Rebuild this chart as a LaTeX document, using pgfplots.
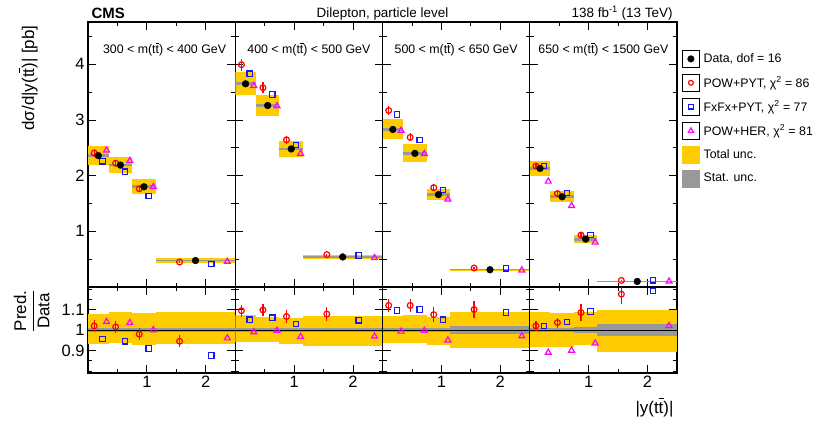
\documentclass[border=0pt]{standalone}
\usepackage{pgfplots}
\pgfplotsset{compat=1.18}
\usepackage{fontspec}
\setmainfont{Liberation Sans}
\definecolor{unc}{HTML}{FFCC00}
\definecolor{stat}{HTML}{999999}
\definecolor{cred}{HTML}{FF0000}
\definecolor{cblue}{HTML}{1818F0}
\definecolor{cmag}{HTML}{FF00FF}
\newcommand{\tbar}{\makebox[0pt][l]{\rule[0.80em]{0.30em}{0.07em}}t}
\newcommand{\ubox}[5]{\addplot[fill=#5, draw=none, no markers, forget plot] coordinates {(#1,#3) (#2,#3) (#2,#4) (#1,#4)};}
\newcommand{\dataplot}[1]{\addplot[only marks, mark=*, mark size=3.4bp, black, forget plot] coordinates {#1};}
\newcommand{\redplot}[1]{\addplot[only marks, mark=o, mark size=2.9bp, cred, line width=1.2bp, forget plot, error bars/.cd, y dir=both, y explicit, error mark=none, error bar style={line width=1.2bp, cred}] coordinates {#1};}
\newcommand{\blueplot}[1]{\addplot[only marks, mark=square, mark size=2.7bp, cblue, line width=1.2bp, forget plot] coordinates {#1};}
\newcommand{\magplot}[1]{\addplot[only marks, mark=triangle, mark size=3.4bp, cmag, line width=1.2bp, forget plot] coordinates {#1};}
\newcommand{\unity}{\addplot[black, line width=1bp, no markers, forget plot] coordinates {(0,1) (2.5,1)};}
\tikzset{plab/.style={anchor=base, font=\fontsize{12.4}{15}\selectfont}}
\pgfplotsset{
  panel/.style={scale only axis, width=147.25bp, xmin=0, xmax=2.5,
    tick align=inside, xtick={1,2}, minor xtick={0.5,1.5},
    major tick length=8bp, minor tick length=4bp,
    axis line style={line width=1.2bp},
    tick style={black, line width=0.9bp},
    ticklabel style={font=\fontsize{16.5}{19}\selectfont},
    /pgf/number format/assume math mode=true,
    anchor=south west},
  top/.style={panel, height=265bp, ymin=0, ymax=4.76, ytick={1,2,3,4},
    minor ytick={0.5,1.5,2.5,3.5,4.5}, xticklabels={}},
  bot/.style={panel, height=86bp, ymin=0.79, ymax=1.21, ytick={0.9,1,1.1},
    minor ytick={0.8,0.85,0.95,1.05,1.15,1.2}},
}
\begin{document}
\begin{tikzpicture}
\path[use as bounding box] (0,0) rectangle (822bp,425bp);
% ---------------- panel 1 top
\begin{axis}[top, at={(88bp,138bp)}]
\ubox{0}{0.35}{2.19}{2.53}{unc}
\ubox{0.35}{0.75}{2.04}{2.34}{unc}
\ubox{0.75}{1.15}{1.67}{1.94}{unc}
\ubox{1.15}{2.5}{0.44}{0.515}{unc}
\ubox{0}{0.35}{2.335}{2.385}{stat}
\ubox{0.35}{0.75}{2.165}{2.215}{stat}
\ubox{0.75}{1.15}{1.775}{1.825}{stat}
\ubox{1.15}{2.5}{0.462}{0.488}{stat}
\redplot{(0.105,2.407) +- (0,0.071) (0.47,2.223) +- (0,0.066) (0.87,1.764) +- (0,0.054) (1.555,0.449) +- (0,0.014)}
\blueplot{(0.245,2.259) (0.63,2.070) (1.03,1.638) (2.095,0.416)}
\magplot{(0.315,2.454) (0.71,2.267) (1.11,1.80) (2.365,0.456)}
\dataplot{(0.175,2.36) (0.55,2.19) (0.95,1.80) (1.825,0.475)}
\node[plab] at (rel axis cs:0.52,0.882) {300 < m(t\tbar) < 400 GeV};
\end{axis}
% ---------------- panel 2 top
\begin{axis}[top, at={(235.25bp,138bp)}, yticklabels={}]
\ubox{0}{0.35}{3.45}{3.87}{unc}
\ubox{0.35}{0.75}{3.08}{3.45}{unc}
\ubox{0.75}{1.15}{2.33}{2.62}{unc}
\ubox{1.15}{2.5}{0.51}{0.57}{unc}
\ubox{0}{0.35}{3.625}{3.675}{stat}
\ubox{0.35}{0.75}{3.235}{3.285}{stat}
\ubox{0.75}{1.15}{2.455}{2.505}{stat}
\ubox{1.15}{2.5}{0.527}{0.553}{stat}
\redplot{(0.105,3.993) +- (0,0.11) (0.47,3.579) +- (0,0.098) (0.87,2.644) +- (0,0.074) (1.555,0.582) +- (0,0.019)}
\blueplot{(0.245,3.833) (0.63,3.456) (1.03,2.554) (2.095,0.565)}
\magplot{(0.315,3.614) (0.71,3.250) (1.11,2.398) (2.365,0.523)}
\dataplot{(0.175,3.65) (0.55,3.26) (0.95,2.48) (1.825,0.54)}
\node[plab] at (rel axis cs:0.5,0.882) {400 < m(t\tbar) < 500 GeV};
\end{axis}
% ---------------- panel 3 top
\begin{axis}[top, at={(382.5bp,138bp)}, yticklabels={}]
\ubox{0}{0.35}{2.65}{3.01}{unc}
\ubox{0.35}{0.75}{2.25}{2.56}{unc}
\ubox{0.75}{1.15}{1.57}{1.76}{unc}
\ubox{1.15}{2.5}{0.29}{0.33}{unc}
\ubox{0}{0.35}{2.805}{2.855}{stat}
\ubox{0.35}{0.75}{2.375}{2.425}{stat}
\ubox{0.75}{1.15}{1.635}{1.685}{stat}
\ubox{1.15}{2.5}{0.297}{0.323}{stat}
\redplot{(0.105,3.170) +- (0,0.085) (0.47,2.688) +- (0,0.072) (0.87,1.785) +- (0,0.058) (1.555,0.341) +- (0,0.012)}
\blueplot{(0.245,3.099) (0.63,2.640) (1.03,1.743) (2.095,0.336)}
\magplot{(0.315,2.810) (0.71,2.393) (1.11,1.577) (2.365,0.301)}
\dataplot{(0.175,2.83) (0.55,2.40) (0.95,1.66) (1.825,0.31)}
\node[plab] at (rel axis cs:0.5,0.882) {500 < m(t\tbar) < 650 GeV};
\end{axis}
% ---------------- panel 4 top
\begin{axis}[top, at={(529.75bp,138bp)}, yticklabels={},
  legend style={at={(1,1)}, anchor=north west, xshift=5bp, yshift=-28bp,
    draw=none, fill=none, inner sep=0pt, row sep=6.5bp, column sep=4bp,
    font=\fontsize{12.4}{15}\selectfont, nodes={inner sep=0pt}},
  legend cell align=left]
\addlegendimage{legend image code/.code={\path (0,-8.5bp) rectangle (17bp,8.5bp); \fill[black] (8.5bp,0) circle (3.3bp);}}
\addlegendentry{Data, dof = 16}
\addlegendimage{legend image code/.code={\path (0,-8.5bp) rectangle (17bp,8.5bp); \draw[cred, line width=1.2bp] (8.5bp,0) circle (2.4bp);}}
\addlegendentry{POW+PYT, χ\textsuperscript{2} = 86}
\addlegendimage{legend image code/.code={\path (0,-8.5bp) rectangle (17bp,8.5bp); \draw[cblue, line width=1.2bp] (6.1bp,-2.4bp) rectangle (10.9bp,2.4bp);}}
\addlegendentry{FxFx+PYT, χ\textsuperscript{2} = 77}
\addlegendimage{legend image code/.code={\path (0,-8.5bp) rectangle (17bp,8.5bp); \draw[cmag, line width=1.2bp] (8.5bp,2.8bp) -- (5.9bp,-1.8bp) -- (11.1bp,-1.8bp) -- cycle;}}
\addlegendentry{POW+HER, χ\textsuperscript{2} = 81}
\addlegendimage{legend image code/.code={\fill[unc] (0,-8.5bp) rectangle (17bp,8.5bp);}}
\addlegendentry{Total unc.}
\addlegendimage{legend image code/.code={\fill[stat] (0,-8.5bp) rectangle (17bp,8.5bp);}}
\addlegendentry{Stat. unc.}
\ubox{0}{0.35}{2.00}{2.26}{unc}
\ubox{0.35}{0.75}{1.52}{1.73}{unc}
\ubox{0.75}{1.15}{0.79}{0.93}{unc}
\ubox{1.15}{2.5}{0.09}{0.11}{unc}
\ubox{0}{0.35}{2.105}{2.155}{stat}
\ubox{0.35}{0.75}{1.595}{1.645}{stat}
\ubox{0.75}{1.15}{0.835}{0.885}{stat}
\ubox{1.15}{2.5}{0.092}{0.108}{stat}
\redplot{(0.105,2.173) +- (0,0.053) (0.47,1.678) +- (0,0.041) (0.87,0.933) +- (0,0.034) (1.555,0.1175) +- (0,0.005)}
\blueplot{(0.245,2.173) (0.63,1.685) (1.03,0.937) (2.095,0.119)}
\magplot{(0.315,1.896) (0.71,1.458) (1.11,0.804) (2.365,0.102)}
\dataplot{(0.175,2.13) (0.55,1.62) (0.95,0.86) (1.825,0.10)}
\node[plab] at (rel axis cs:0.5,0.882) {650 < m(t\tbar) < 1500 GeV};
\end{axis}
% ---------------- panel 1 ratio
\begin{axis}[bot, at={(88bp,52bp)}]
\ubox{0}{0.35}{0.93}{1.078}{unc}
\ubox{0.35}{0.75}{0.935}{1.087}{unc}
\ubox{0.75}{1.15}{0.925}{1.085}{unc}
\ubox{1.15}{2.5}{0.93}{1.09}{unc}
\ubox{0}{0.35}{0.992}{1.008}{stat}
\ubox{0.35}{0.75}{0.992}{1.008}{stat}
\ubox{0.75}{1.15}{0.992}{1.008}{stat}
\ubox{1.15}{2.5}{0.99}{1.01}{stat}
\unity
\redplot{(0.105,1.02) +- (0,0.03) (0.47,1.015) +- (0,0.03) (0.87,0.98) +- (0,0.03) (1.555,0.945) +- (0,0.03)}
\blueplot{(0.245,0.957) (0.63,0.945) (1.03,0.91) (2.095,0.875)}
\magplot{(0.315,1.04) (0.71,1.035) (1.11,1.0) (2.365,0.96)}
\end{axis}
% ---------------- panel 2 ratio
\begin{axis}[bot, at={(235.25bp,52bp)}, yticklabels={}]
\ubox{0}{0.35}{0.94}{1.075}{unc}
\ubox{0.35}{0.75}{0.94}{1.062}{unc}
\ubox{0.75}{1.15}{0.933}{1.06}{unc}
\ubox{1.15}{2.5}{0.92}{1.07}{unc}
\ubox{0}{0.35}{0.992}{1.008}{stat}
\ubox{0.35}{0.75}{0.992}{1.008}{stat}
\ubox{0.75}{1.15}{0.992}{1.008}{stat}
\ubox{1.15}{2.5}{0.99}{1.01}{stat}
\unity
\redplot{(0.105,1.094) +- (0,0.03) (0.47,1.098) +- (0,0.03) (0.87,1.066) +- (0,0.03) (1.555,1.078) +- (0,0.035)}
\blueplot{(0.245,1.05) (0.63,1.06) (1.03,1.03) (2.095,1.047)}
\magplot{(0.315,0.99) (0.71,0.997) (1.11,0.967) (2.365,0.969)}
\end{axis}
% ---------------- panel 3 ratio
\begin{axis}[bot, at={(382.5bp,52bp)}, yticklabels={}]
\ubox{0}{0.35}{0.935}{1.07}{unc}
\ubox{0.35}{0.75}{0.935}{1.075}{unc}
\ubox{0.75}{1.15}{0.925}{1.065}{unc}
\ubox{1.15}{2.5}{0.91}{1.09}{unc}
\ubox{0}{0.35}{0.992}{1.008}{stat}
\ubox{0.35}{0.75}{0.992}{1.008}{stat}
\ubox{0.75}{1.15}{0.992}{1.008}{stat}
\ubox{1.15}{2.5}{0.979}{1.021}{stat}
\unity
\redplot{(0.105,1.12) +- (0,0.03) (0.47,1.12) +- (0,0.03) (0.87,1.075) +- (0,0.035) (1.555,1.10) +- (0,0.04)}
\blueplot{(0.245,1.095) (0.63,1.10) (1.03,1.05) (2.095,1.085)}
\magplot{(0.315,0.993) (0.71,0.997) (1.11,0.95) (2.365,0.97)}
\end{axis}
% ---------------- panel 4 ratio
\begin{axis}[bot, at={(529.75bp,52bp)}, yticklabels={}]
\ubox{0}{0.35}{0.915}{1.088}{unc}
\ubox{0.35}{0.75}{0.915}{1.085}{unc}
\ubox{0.75}{1.15}{0.925}{1.09}{unc}
\ubox{1.15}{2.5}{0.895}{1.10}{unc}
\ubox{0}{0.35}{0.99}{1.01}{stat}
\ubox{0.35}{0.75}{0.99}{1.01}{stat}
\ubox{0.75}{1.15}{0.985}{1.015}{stat}
\ubox{1.15}{2.5}{0.972}{1.028}{stat}
\unity
\redplot{(0.105,1.02) +- (0,0.025) (0.47,1.036) +- (0,0.025) (0.87,1.085) +- (0,0.04) (1.555,1.175) +- (0,0.05)}
\blueplot{(0.245,1.02) (0.63,1.04) (1.03,1.09) (2.095,1.19)}
\magplot{(0.315,0.89) (0.71,0.90) (1.11,0.935) (2.365,1.02)}
\end{axis}
% ---------------- texts
\node[anchor=base west, font=\fontsize{15}{18}\selectfont\bfseries] at (88bp,406.7bp) {CMS};
\node[anchor=base, font=\fontsize{13.5}{16}\selectfont] at (382.5bp,407.7bp) {Dilepton, particle level};
\node[anchor=base east, font=\fontsize{13.5}{16}\selectfont] at (676bp,407.7bp) {138 fb\textsuperscript{-1} (13 TeV)};
\node[anchor=base east, rotate=90, font=\fontsize{17}{20}\selectfont] at (34bp,403bp) {dσ/d|y(t\tbar)| [pb]};
\node[rotate=90, font=\fontsize{17}{20}\selectfont] at (31.7bp,114bp) {$\displaystyle\frac{\mbox{Pred.}}{\mbox{Data}}$};
\node[anchor=base east, font=\fontsize{17}{20}\selectfont] at (677bp,12bp) {|y(t\tbar)|};
\end{tikzpicture}
\end{document}
